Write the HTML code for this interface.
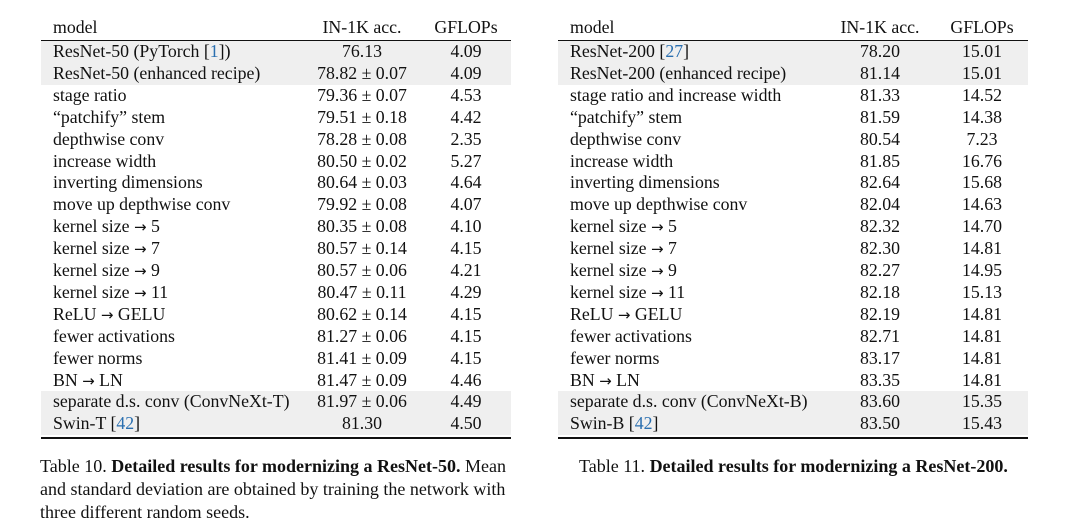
<!DOCTYPE html>
<html><head><meta charset="utf-8"><style>
body{margin:0;width:1068px;height:526px;background:#fff;font-family:"Liberation Serif",serif;color:#111;position:relative;overflow:hidden}
.t{position:absolute;top:0;width:470px}
.hdr{position:absolute;top:16px;height:24px;width:100%;font-size:17.8px;line-height:22px}
.rule{position:absolute;left:0;width:100%;background:#111;height:1.6px}
.row{position:absolute;left:0;width:100%;height:21.9px;font-size:17.8px;line-height:21.9px}
.row.g{background:#efefef}
.c{position:absolute;white-space:nowrap}
.cap{position:absolute;font-size:18px;line-height:23px;white-space:nowrap}
.ref{color:#2a6fb0}
.ar{font-family:"DejaVu Sans",sans-serif;font-size:15px}
</style></head><body>
<div class="t" id="L" style="left:41px"></div>
<div class="t" id="R" style="left:558px"></div>
<div class="cap" style="left:40px;top:455px">Table 10. <b>Detailed results for modernizing a ResNet-50.</b> Mean<br>and standard deviation are obtained by training the network with<br>three different random seeds.</div>
<div class="cap" style="left:579px;top:455px">Table 11. <b>Detailed results for modernizing a ResNet-200.</b></div>
<script>
const A='<span class=ar>→</span>';
const leftModels=["ResNet-50 (PyTorch [<span class=ref>1</span>])","ResNet-50 (enhanced recipe)","stage ratio","“patchify” stem","depthwise conv","increase width","inverting dimensions","move up depthwise conv","kernel size "+A+" 5","kernel size "+A+" 7","kernel size "+A+" 9","kernel size "+A+" 11","ReLU "+A+" GELU","fewer activations","fewer norms","BN "+A+" LN","separate d.s. conv (ConvNeXt-T)","Swin-T [<span class=ref>42</span>]"];
const leftAcc=["76.13","78.82 ± 0.07","79.36 ± 0.07","79.51 ± 0.18","78.28 ± 0.08","80.50 ± 0.02","80.64 ± 0.03","79.92 ± 0.08","80.35 ± 0.08","80.57 ± 0.14","80.57 ± 0.06","80.47 ± 0.11","80.62 ± 0.14","81.27 ± 0.06","81.41 ± 0.09","81.47 ± 0.09","81.97 ± 0.06","81.30"];
const leftFlops=["4.09","4.09","4.53","4.42","2.35","5.27","4.64","4.07","4.10","4.15","4.21","4.29","4.15","4.15","4.15","4.46","4.49","4.50"];
const rightModels=["ResNet-200 [<span class=ref>27</span>]","ResNet-200 (enhanced recipe)","stage ratio and increase width","“patchify” stem","depthwise conv","increase width","inverting dimensions","move up depthwise conv","kernel size "+A+" 5","kernel size "+A+" 7","kernel size "+A+" 9","kernel size "+A+" 11","ReLU "+A+" GELU","fewer activations","fewer norms","BN "+A+" LN","separate d.s. conv (ConvNeXt-B)","Swin-B [<span class=ref>42</span>]"];
const rightAcc=["78.20","81.14","81.33","81.59","80.54","81.85","82.64","82.04","82.32","82.30","82.27","82.18","82.19","82.71","83.17","83.35","83.60","83.50"];
const rightFlops=["15.01","15.01","14.52","14.38","7.23","16.76","15.68","14.63","14.70","14.81","14.95","15.13","14.81","14.81","14.81","14.81","15.35","15.43"];
const gray=[0,1,16,17];
function build(id,models,acc,flops,accC,flC){
 const t=document.getElementById(id);
 let h=`<div class="hdr"><span class="c" style="left:12px">model</span><span class="c" style="left:${accC}px;transform:translateX(-50%)">IN-1K acc.</span><span class="c" style="left:${flC}px;transform:translateX(-50%)">GFLOPs</span></div>`;
 h+=`<div class="rule" style="top:39.5px"></div>`;
 models.forEach((m,i)=>{
  h+=`<div class="row${gray.includes(i)?' g':''}" style="top:${41+i*21.9}px"><span class="c" style="left:12px">${m}</span><span class="c" style="left:${accC}px;transform:translateX(-50%)">${acc[i]}</span><span class="c" style="left:${flC}px;transform:translateX(-50%)">${flops[i]}</span></div>`;
 });
 h+=`<div class="rule" style="top:437px"></div>`;
 t.innerHTML=h;
}
build('L',leftModels,leftAcc,leftFlops,321,425);
build('R',rightModels,rightAcc,rightFlops,322,424);
</script>
</body></html>
